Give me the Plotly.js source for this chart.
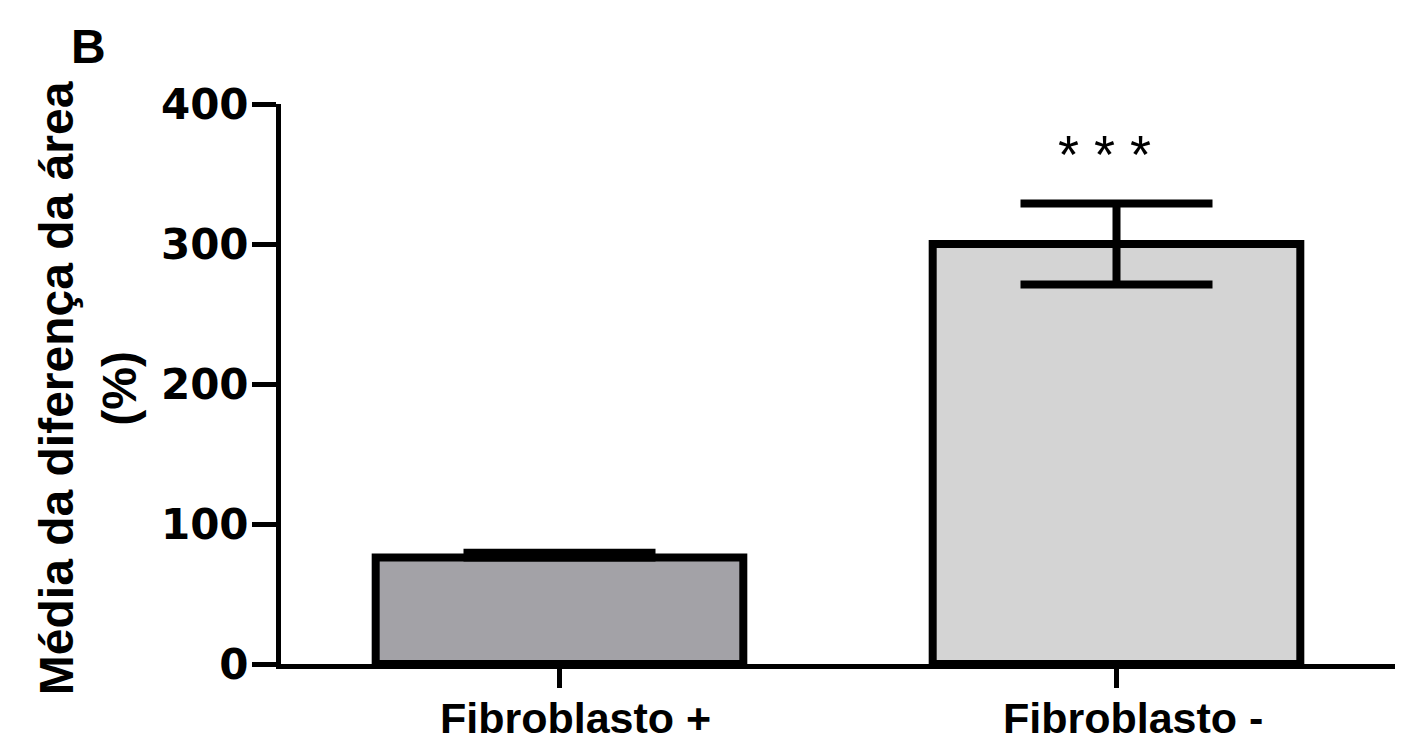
<!DOCTYPE html>
<html>
<head>
<meta charset="utf-8">
<script src="https://cdn.plot.ly/plotly-3.0.1.min.js"></script>
<style>html,body{margin:0;padding:0;background:#fff;}#chart{width:1427px;height:742px;}</style>
</head>
<body>
<div id="chart"></div>
<script>
const categories = ["Fibroblasto +", "Fibroblasto -"];
const means = [76, 300];
const errUp = [3.5, 29];
const errDown = [0, 29];
const barColors = ["#a3a2a7", "#d4d4d4"];
const yTickVals = [0, 100, 200, 300, 400];
const yTickText = ["0", "100", "200", "300", "400"];
const significance = ["", "* * *"];

const ARIAL = "Liberation Sans";

const trace = {
  type: "bar",
  x: categories,
  y: means,
  width: 0.66,
  marker: {color: barColors, line: {color: "#000", width: 8}},
  error_y: {type: "data", symmetric: false, array: errUp, arrayminus: errDown,
            color: "#000", thickness: 8, width: 96},
  hoverinfo: "skip"
};

const annotations = [
  {text: "<b>B</b>", xref: "paper", yref: "paper", x: -0.173, y: 1.102,
   xanchor: "center", yanchor: "middle", showarrow: false,
   font: {family: ARIAL, size: 48, color: "#000"}},
  {text: "<b>Média da diferença da área<br>(%)</b>", xref: "paper", yref: "paper",
   x: -0.173, y: 0.493, xanchor: "center", yanchor: "middle", textangle: -90,
   showarrow: false,
   font: {family: ARIAL, size: 48, color: "#000"}}
];
categories.forEach((c, i) => {
  annotations.push({text: "<b>" + c + "</b>", xref: "x", yref: "paper", x: c,
    y: 0, yshift: -28, xshift: 16, xanchor: "center", yanchor: "top",
    showarrow: false, font: {family: ARIAL, size: 43, color: "#000"}});
  if (significance[i]) {
    annotations.push({text: significance[i], xref: "x", yref: "y", x: c,
      y: means[i] + errUp[i] + 30, xshift: -12, yshift: 7, showarrow: false,
      xanchor: "center", yanchor: "middle",
      font: {family: ARIAL, size: 54, color: "#000"}});
  }
});

const layout = {
  width: 1427, height: 742,
  margin: {l: 281, r: 32, t: 104, b: 78, pad: 0},
  paper_bgcolor: "#fff", plot_bgcolor: "#fff",
  showlegend: false,
  xaxis: {
    type: "category", range: [-0.5, 1.5],
    showline: true, linecolor: "#000", linewidth: 5,
    ticks: "outside", ticklen: 19, tickwidth: 5, tickcolor: "#000",
    showgrid: false, zeroline: false, showticklabels: false
  },
  yaxis: {
    range: [0, 400], tickvals: yTickVals, ticktext: yTickText,
    showline: true, linecolor: "#000", linewidth: 5,
    ticks: "outside", ticklen: 24, tickwidth: 5, tickcolor: "#000",
    ticklabelstandoff: -5,
    showgrid: false, zeroline: false,
    tickfont: {family: "DejaVu Sans", size: 42, color: "#000", weight: "bold"}
  },
  annotations: annotations
};

Plotly.newPlot("chart", [trace], layout, {displayModeBar: false, staticPlot: true});
</script>
</body>
</html>
